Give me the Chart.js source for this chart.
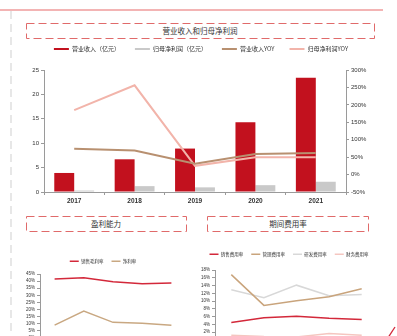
<!DOCTYPE html>
<html>
<head>
<meta charset="utf-8">
<script src="https://cdn.jsdelivr.net/npm/chart.js@4/dist/chart.umd.min.js"></script>
<style>
  body { margin: 0; width: 397px; height: 336px; overflow: hidden; background: #fff; position: relative; }
  svg.deco { position: absolute; left: 0; top: 0; }
  canvas { position: absolute; }
</style>
</head>
<body>
<svg class="deco" width="397" height="336">
  <line x1="0" y1="10" x2="383" y2="10" stroke="#e86a6a" stroke-width="1.2"/>
  <line x1="11" y1="11" x2="11" y2="336" stroke="#cfcfcf" stroke-width="1" stroke-dasharray="8,5"/>
  <rect x="26.5" y="23.5" width="348" height="15" fill="none" stroke="#e06a6a" stroke-width="1" stroke-dasharray="8,4"/>
  <rect x="26.5" y="216.5" width="160" height="15" fill="none" stroke="#e06a6a" stroke-width="1" stroke-dasharray="8,4"/>
  <rect x="207.5" y="216.5" width="161" height="15" fill="none" stroke="#e06a6a" stroke-width="1" stroke-dasharray="8,4"/>
  <line x1="388.5" y1="337" x2="395" y2="327" stroke="#d3283a" stroke-width="1.3"/>
  <g font-family="Noto Sans CJK SC" font-size="7.5" fill="#333" text-anchor="middle">
    <text x="200" y="33.5">营业收入和归母净利润</text>
    <text x="106" y="226.5">盈利能力</text>
    <text x="288" y="226.5">期间费用率</text>
  </g>
</svg>
<canvas id="mainChart" width="362" height="179" style="left:20px;top:31px"></canvas>
<canvas id="profitChart" width="166" height="103" style="left:20px;top:251px"></canvas>
<canvas id="costChart" width="196" height="113" style="left:200px;top:244px"></canvas>
<script>
// data
const years = ['2017', '2018', '2019', '2020', '2021'];
const revenue = [3.9, 6.7, 8.9, 14.3, 23.4];        // 营业收入（亿元）
const netProfit = [0.3, 1.2, 0.95, 1.4, 2.1];       // 归母净利润（亿元）
const revenueYoy = [74, 69, 31, 59, 62];            // %
const profitYoy = [185, 256, 25, 50, 50];           // %

const grossMargin = [41.5, 42.4, 39.6, 38.2, 38.7]; // 销售毛利率
const netMargin = [9.1, 19.0, 11.0, 10.3, 9.0];     // 净利率

const salesRate = [4.5, 5.7, 6.1, 5.6, 5.3];        // 销售费用率
const adminRate = [16.8, 8.9, 10.1, 11.1, 13.2];    // 管理费用率
const rdRate = [12.9, 10.9, 14.1, 11.4, 11.7];      // 研发费用率
const finRate = [1.2, 0.9, 0.8, 1.7, 1.2];          // 财务费用率

const CJK = '"Noto Sans CJK SC", sans-serif';
const LAT = '"Liberation Sans", Arial, sans-serif';
const axisGrey = '#9a9a9a';

// legend items drawn as flat bars
function flatLabels(chart) {
  return Chart.defaults.plugins.legend.labels.generateLabels(chart).map(l => ({
    ...l, lineWidth: 0, fillStyle: l.strokeStyle
  }));
}

// force the legend block to a fixed height, so the gap under it matches
const legendBox = {
  id: 'legendBox',
  beforeUpdate(chart, args, opts) {
    const lg = chart.legend;
    if (!lg || lg._fixedFit) return;
    const fit = lg.fit.bind(lg);
    lg.fit = function () {
      fit();
      if (opts.height) this.height = opts.height;
    };
    lg._fixedFit = true;
  }
};

// keep scale sizes fixed so the plot area lands where it should
const fixW = w => s => { s.width = w; };
const fixH = h => s => { s.height = h; };

function yAxis(min, max, step, width, pos, fmt, size) {
  return {
    position: pos, min: min, max: max,
    border: { color: axisGrey },
    grid: { drawOnChartArea: false, tickLength: 3, color: axisGrey },
    ticks: { stepSize: step, autoSkip: false, font: { size: size, family: LAT }, color: '#333', padding: 2, callback: fmt },
    afterFit: fixW(width)
  };
}

new Chart(document.getElementById('mainChart'), {
  data: {
    labels: years,
    datasets: [
      { type: 'line', label: '营业收入YOY', data: revenueYoy, yAxisID: 'y1', borderColor: '#b89070', backgroundColor: '#b89070', borderWidth: 2, pointRadius: 0, order: 0 },
      { type: 'line', label: '归母净利润YOY', data: profitYoy, yAxisID: 'y1', borderColor: '#f2b4aa', backgroundColor: '#f2b4aa', borderWidth: 2, pointRadius: 0, order: 0 },
      { type: 'bar', label: '营业收入（亿元）', data: revenue, yAxisID: 'y', backgroundColor: '#c2111e', borderColor: '#c2111e', categoryPercentage: 0.66, barPercentage: 1, order: 1 },
      { type: 'bar', label: '归母净利润（亿元）', data: netProfit, yAxisID: 'y', backgroundColor: '#c9c9c9', borderColor: '#c9c9c9', categoryPercentage: 0.66, barPercentage: 1, order: 1 }
    ]
  },
  plugins: [legendBox],
  options: {
    responsive: false,
    animation: false,
    plugins: {
      tooltip: { enabled: false },
      legendBox: { height: 39 },
      legend: {
        labels: {
          boxWidth: 15, boxHeight: 2, padding: 15,
          font: { size: 6, family: CJK }, color: '#333',
          generateLabels: chart => {
            const items = flatLabels(chart);
            // reference order: bars first, then the two YOY lines
            return [items[2], items[3], items[0], items[1]];
          }
        }
      }
    },
    scales: {
      x: {
        border: { color: axisGrey },
        grid: { drawOnChartArea: false, tickLength: 3, color: axisGrey },
        ticks: { font: { size: 6.5, weight: 'bold', family: LAT }, color: '#333', padding: 2 },
        afterFit: fixH(18)
      },
      y: yAxis(0, 25, 5, 24, 'left', v => v, 6),
      y1: yAxis(-50, 300, 50, 36, 'right', v => v + '%', 6)
    }
  }
});

function smallLegend() {
  return {
    labels: {
      boxWidth: 9, boxHeight: 1.5, padding: 8,
      font: { size: 4.5, family: CJK }, color: '#333',
      generateLabels: flatLabels
    }
  };
}

function smallX(h) {
  return {
    offset: true,
    border: { color: axisGrey },
    grid: { drawOnChartArea: false, tickLength: 3, color: axisGrey },
    ticks: { font: { size: 4.5, family: LAT }, color: '#333' },
    afterFit: fixH(h)
  };
}

new Chart(document.getElementById('profitChart'), {
  type: 'line',
  data: {
    labels: years,
    datasets: [
      { label: '销售毛利率', data: grossMargin, borderColor: '#d3283a', borderWidth: 1.5, pointRadius: 0 },
      { label: '净利率', data: netMargin, borderColor: '#c9a882', borderWidth: 1.5, pointRadius: 0 }
    ]
  },
  plugins: [legendBox],
  options: {
    responsive: false,
    animation: false,
    plugins: { tooltip: { enabled: false }, legend: smallLegend(), legendBox: { height: 23 } },
    scales: {
      x: smallX(16),
      y: yAxis(0, 45, 5, 20, 'left', v => v + '%', 4.5)
    }
  }
});

new Chart(document.getElementById('costChart'), {
  type: 'line',
  data: {
    labels: years,
    datasets: [
      { label: '销售费用率', data: salesRate, borderColor: '#d3283a', borderWidth: 1.5, pointRadius: 0 },
      { label: '管理费用率', data: adminRate, borderColor: '#c9a47c', borderWidth: 1.5, pointRadius: 0 },
      { label: '研发费用率', data: rdRate, borderColor: '#d8d8d8', borderWidth: 1.5, pointRadius: 0 },
      { label: '财务费用率', data: finRate, borderColor: '#f5c6c0', borderWidth: 1.5, pointRadius: 0 }
    ]
  },
  plugins: [legendBox],
  options: {
    responsive: false,
    animation: false,
    layout: { padding: { right: 18 } },
    plugins: { tooltip: { enabled: false }, legend: smallLegend(), legendBox: { height: 26 } },
    scales: {
      x: smallX(17),
      y: yAxis(0, 18, 2, 15, 'left', v => v + '%', 4.5)
    }
  }
});
</script>
</body>
</html>
